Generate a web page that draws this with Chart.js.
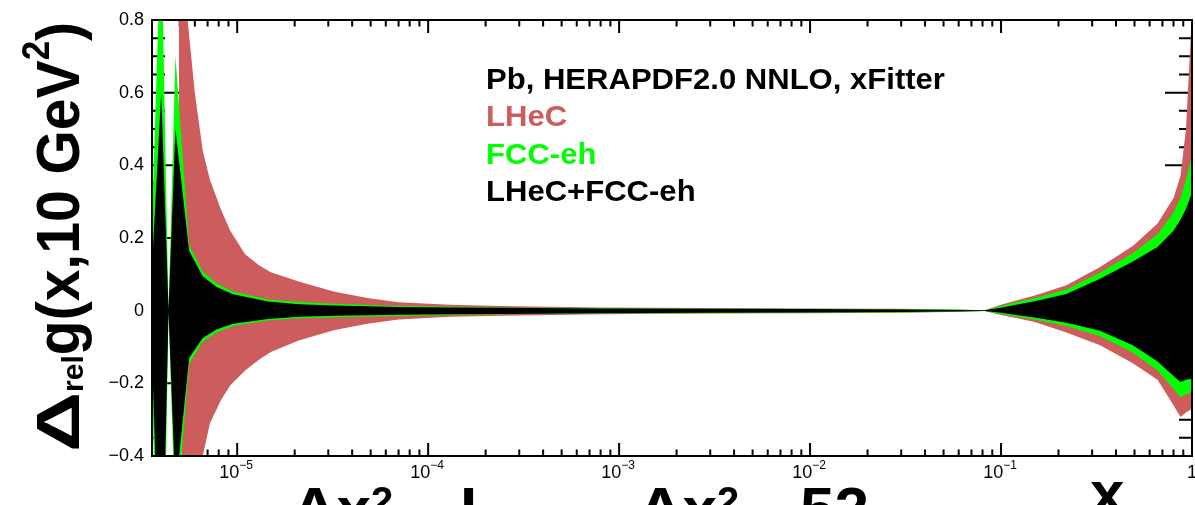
<!DOCTYPE html>
<html>
<head>
<meta charset="utf-8">
<script src="https://cdn.jsdelivr.net/npm/chart.js@4.4.1/dist/chart.umd.min.js"></script>
<style>
  html, body { margin: 0; padding: 0; background: #fff; }
  #wrap { width: 1195px; height: 505px; }
</style>
</head>
<body>
<div id="wrap"><canvas id="chart" width="1195" height="505"></canvas></div>
<script>
// x grid of the FCC-eh and combined fits
const xFCC = [3.58e-6, 4.0e-6, 4.37e-6, 4.75e-6, 5.6e-6, 6.6e-6, 7.8e-6, 9.5e-6, 1.45e-5, 2.1e-5, 3.2e-5,
  7e-5, 1.3e-4, 2.4e-4, 8e-4, 2.7e-3, 9e-3, 0.03, 0.054, 0.082, 0.1, 0.12, 0.15, 0.22, 0.33, 0.49, 0.66,
  0.8, 0.87, 0.93, 1.0];
// x grid of the LHeC fit
const xLHeC = [4.95e-6, 5.5e-6, 6e-6, 6.6e-6, 7.2e-6, 8.2e-6, 9.2e-6, 1.1e-5, 1.3e-5, 1.5e-5, 2.1e-5, 3.2e-5,
  4.8e-5, 7e-5, 1.3e-4, 2.4e-4, 8e-4, 2.7e-3, 9e-3, 0.03, 0.054, 0.082, 0.1, 0.12, 0.15, 0.22, 0.33, 0.49,
  0.66, 0.8, 0.87, 0.93, 1.0];

// relative gluon uncertainty, upper and lower edges
const lhecUp = [1.4, 0.80, 0.60, 0.44, 0.36, 0.28, 0.22, 0.155, 0.125, 0.106, 0.08, 0.053, 0.035, 0.023, 0.016,
  0.013, 0.009, 0.007, 0.006, 0.005, 0.004, 0.001, 0.016, 0.028, 0.042, 0.07, 0.12, 0.178, 0.24, 0.31, 0.37,
  0.50, 0.82];
const lhecLo = [-0.3, -0.62, -0.5, -0.40, -0.31, -0.247, -0.205, -0.165, -0.135, -0.114, -0.082, -0.054, -0.036,
  -0.024, -0.017, -0.014, -0.010, -0.008, -0.007, -0.006, -0.004, -0.001, -0.012, -0.02, -0.031, -0.06, -0.095,
  -0.145, -0.19, -0.26, -0.293, -0.28, -0.27];
const fccUp = [0.25, 1.05, 0.004, 0.70, 0.18, 0.108, 0.075, 0.053, 0.031, 0.024, 0.019, 0.013, 0.011, 0.009,
  0.007, 0.006, 0.005, 0.004, 0.003, 0.001, 0.012, 0.023, 0.034, 0.058, 0.105, 0.158, 0.21, 0.27, 0.31, 0.36, 0.43];
const fccLo = [-0.20, -1.2, -0.004, -0.6, -0.147, -0.085, -0.06, -0.042, -0.027, -0.021, -0.018, -0.015, -0.012,
  -0.010, -0.008, -0.007, -0.006, -0.005, -0.003, -0.001, -0.009, -0.016, -0.024, -0.042, -0.07, -0.115, -0.165,
  -0.215, -0.238, -0.23, -0.225];
const combUp = [0.12, 0.60, 0.002, 0.50, 0.165, 0.095, 0.065, 0.045, 0.025, 0.018, 0.014, 0.010, 0.009, 0.008,
  0.006, 0.005, 0.0045, 0.0035, 0.002, 0.001, 0.008, 0.016, 0.026, 0.046, 0.088, 0.135, 0.175, 0.22, 0.25, 0.28, 0.325];
const combLo = [-0.12, -0.9, -0.002, -0.5, -0.13, -0.075, -0.052, -0.036, -0.023, -0.017, -0.014, -0.011, -0.010,
  -0.009, -0.007, -0.006, -0.005, -0.004, -0.002, -0.001, -0.006, -0.012, -0.019, -0.033, -0.055, -0.095, -0.14,
  -0.18, -0.196, -0.19, -0.187];

// axis labels
const xLabelExps = [-5, -4, -3, -2, -1, 0];
const yLabels = [-0.4, -0.2, 0, 0.2, 0.4, 0.6, 0.8];
const legendLines = [
  { text: 'Pb, HERAPDF2.0 NNLO, xFitter', color: '#000000' },
  { text: 'LHeC', color: 'rgb(205, 92, 92)' },
  { text: 'FCC-eh', color: '#00ff00' },
  { text: 'LHeC+FCC-eh', color: '#000000' }
];

const X_MIN = 3.58e-6, X_MAX = 1;
const FONT = '"Liberation Sans", Arial, Helvetica, sans-serif';

// one filled band = upper line + lower line filled back to it
function band(xs, hi, lo, color, order) {
  const common = { borderWidth: 0, pointRadius: 0, tension: 0, order: order };
  return [
    { ...common, label: 'up', data: xs.map((x, i) => ({ x: x, y: hi[i] })), fill: false },
    { ...common, label: 'lo', data: xs.map((x, i) => ({ x: x, y: lo[i] })), fill: '-1', backgroundColor: color }
  ];
}

const datasets = [
  ...band(xLHeC, lhecUp, lhecLo, legendLines[1].color, 3),
  ...band(xFCC, fccUp, fccLo, legendLines[2].color, 2),
  ...band(xFCC, combUp, combLo, '#000000', 1)
];

function isLabelled(v) {
  return yLabels.some(l => Math.abs(l - v) < 1e-6);
}

// inward tick marks under the bands, frame and texts on top
const decor = {
  id: 'decor',
  beforeDatasetsDraw(chart) {
    const { ctx, chartArea: a, scales: { x, y } } = chart;
    ctx.save();
    ctx.strokeStyle = '#000';
    ctx.lineWidth = 2;
    ctx.beginPath();
    for (let e = -6; e <= 0; e++) {
      for (let k = 1; k <= 9; k++) {
        const v = k * Math.pow(10, e);
        if (v < X_MIN || v > X_MAX * 1.0001) continue;
        const px = x.getPixelForValue(v);
        const len = k === 1 ? 13 : 6.5;
        ctx.moveTo(px, a.bottom); ctx.lineTo(px, a.bottom - len);
        ctx.moveTo(px, a.top); ctx.lineTo(px, a.top + len);
      }
    }
    for (let i = 0; i <= 24; i++) {
      const v = -0.4 + i * 0.05;
      const py = y.getPixelForValue(v);
      const len = i % 4 === 0 ? 27 : 13;
      ctx.moveTo(a.left, py); ctx.lineTo(a.left + len, py);
      ctx.moveTo(a.right, py); ctx.lineTo(a.right - len, py);
    }
    ctx.stroke();
    ctx.restore();
  },
  afterDatasetsDraw(chart) {
    const { ctx, chartArea: a } = chart;
    ctx.save();
    ctx.strokeStyle = '#000';
    ctx.lineWidth = 2;
    ctx.strokeRect(a.left, a.top, a.right - a.left, a.bottom - a.top);
    ctx.restore();
  },
  afterDraw(chart) {
    const { ctx, scales: { x } } = chart;
    ctx.save();
    ctx.fillStyle = '#000';
    ctx.textBaseline = 'alphabetic';

    // x tick labels 10^n
    for (const e of xLabelExps) {
      const px = x.getPixelForValue(Math.pow(10, e));
      if (e === 0) {
        ctx.font = '18px ' + FONT;
        ctx.textAlign = 'center';
        ctx.fillText('1', px, 478);
        continue;
      }
      ctx.textAlign = 'left';
      ctx.font = '18px ' + FONT;
      const w1 = ctx.measureText('10').width;
      ctx.font = '12px ' + FONT;
      const sup = '\u2212' + Math.abs(e);
      const w2 = ctx.measureText(sup).width;
      const start = px - (w1 + w2) / 2 - 1;
      ctx.font = '18px ' + FONT;
      ctx.fillText('10', start, 478);
      ctx.font = '12px ' + FONT;
      ctx.fillText(sup, start + w1, 469);
    }

    // legend block
    ctx.textAlign = 'left';
    ctx.font = 'bold 30px ' + FONT;
    legendLines.forEach((l, i) => {
      ctx.save();
      ctx.translate(486, 89 + i * 37.4);
      ctx.scale(1.035, 1);
      ctx.fillStyle = l.color;
      ctx.fillText(l.text, 0, 0);
      ctx.restore();
    });

    // y title, rotated: Δ_rel g(x,10 GeV^2); sx stretches along the text
    ctx.fillStyle = '#000';
    const parts = [
      { t: '\u0394', size: 62, dy: 0, sx: 1.35 },
      { t: 'rel', size: 30, dy: 4, sx: 1 },
      { t: 'g(x,10 GeV', size: 62, dy: 0, sx: 0.92 },
      { t: '2', size: 38, dy: -30, sx: 0.92 },
      { t: ')', size: 62, dy: 0, sx: 0.92 }
    ];
    let total = 0;
    parts.forEach(p => {
      ctx.font = 'bold ' + p.size + 'px ' + FONT;
      p.w = ctx.measureText(p.t).width * p.sx;
      total += p.w;
    });
    ctx.translate(79, 237);
    ctx.rotate(-Math.PI / 2);
    let cx = -total / 2;
    parts.forEach(p => {
      ctx.save();
      ctx.translate(cx, p.dy);
      ctx.scale(p.sx, 1);
      ctx.font = 'bold ' + p.size + 'px ' + FONT;
      ctx.fillText(p.t, 0, 0);
      ctx.restore();
      cx += p.w;
    });
    ctx.setTransform(1, 0, 0, 1, 0, 0);

    // x title
    ctx.font = 'bold 62px ' + FONT;
    ctx.fillText('x', 1090, 514);

    // text running off the bottom edge
    ctx.fillText('\u0394x', 292, 530);
    ctx.fillText('L', 460, 530);
    ctx.fillText('\u0394x', 638, 530);
    ctx.fillText('52', 800, 530);
    ctx.font = 'bold 40px ' + FONT;
    ctx.fillText('2', 371, 515);
    ctx.fillText('2', 717, 515);
    ctx.restore();
  }
};

new Chart(document.getElementById('chart'), {
  type: 'line',
  data: { datasets: datasets },
  options: {
    responsive: false,
    animation: false,
    devicePixelRatio: 1,
    layout: { padding: { top: 20, right: 3, left: 0, bottom: 0 } },
    plugins: {
      legend: { display: false },
      tooltip: { enabled: false },
      filler: { propagate: false }
    },
    scales: {
      x: {
        type: 'logarithmic',
        min: X_MIN,
        max: X_MAX,
        grid: { display: false, drawTicks: false },
        border: { display: false },
        ticks: { display: false },
        afterFit: s => { s.height = 49; }
      },
      y: {
        type: 'linear',
        min: -0.4,
        max: 0.8,
        grid: { display: false, drawTicks: false },
        border: { display: false },
        ticks: {
          stepSize: 0.05,
          autoSkip: false,
          padding: 8,
          color: '#000',
          font: { family: FONT, size: 18 },
          callback: v => {
            if (!isLabelled(v)) return '';
            const r = Math.round(v * 10) / 10;
            if (r === 0) return '0';
            return (r < 0 ? '\u2212' : '') + Math.abs(r).toFixed(1);
          }
        },
        afterFit: s => { s.width = 152; }
      }
    }
  },
  plugins: [decor]
});
</script>
</body>
</html>
